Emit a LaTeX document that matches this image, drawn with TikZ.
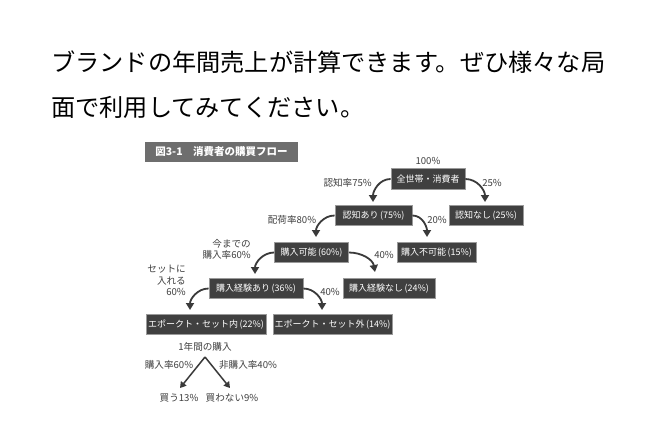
\documentclass[tikz,border=0pt]{standalone}
\usepackage{fontspec}
\setmainfont{Noto Sans CJK JP}
\usetikzlibrary{arrows.meta}
\definecolor{boxfill}{HTML}{404040}
\definecolor{boxline}{HTML}{9A9A9A}
\definecolor{ink}{HTML}{3A3A3A}
\definecolor{barfill}{HTML}{6E6E6E}
\definecolor{lbl}{HTML}{404040}
\newcommand{\pct}[1]{\,(#1\%)}
\begin{document}
\begin{tikzpicture}[x=1pt,y=-1pt,
  flowbox/.style={draw=boxline,line width=0.8pt,fill=boxfill,text=white,font=\fontsize{9}{10}\selectfont,inner sep=0pt,minimum height=20.5pt,anchor=center},
  lab/.style={text=lbl,font=\fontsize{9.6}{11.5}\selectfont,inner sep=0pt,align=center},
  arr/.style={draw=ink,line width=1.8pt,-{Triangle[length=7pt,width=8pt]}},
  thinarr/.style={draw=ink,line width=1.5pt,-{Triangle[length=6pt,width=7pt]}},
  headline/.style={font=\fontsize{24.2}{26}\selectfont,anchor=west,inner sep=0pt,text=black}]
\useasboundingbox[fill=white] (0,0) rectangle (656,436);
% heading text
\node[headline] (h1) at (51,62) {ブランドの年間売上が計算できます。ぜひ様々な局};
\node[headline] (h2) at (51,107) {面で利用してみてください。};
% title bar
\node[fill=barfill,text=white,font=\fontsize{10.5}{12}\selectfont\bfseries,minimum width=153pt,minimum height=20pt,inner sep=0pt] (bar) at (221.5,152) {図3-1\quad 消費者の購買フロー};
% boxes
\node[flowbox,minimum width=74pt] (b0) at (428,179) {全世帯・消費者};
\node[flowbox,minimum width=77pt] (b1) at (373.5,215.5) {認知あり\pct{75}};
\node[flowbox,minimum width=74pt] (b2) at (486,215.5) {認知なし\pct{25}};
\node[flowbox,minimum width=74pt] (b3) at (311.5,252.5) {購入可能\pct{60}};
\node[flowbox,minimum width=79pt] (b4) at (436.5,252.5) {購入不可能\pct{15}};
\node[flowbox,minimum width=94pt] (b5) at (256,288.5) {購入経験あり\pct{36}};
\node[flowbox,minimum width=92pt] (b6) at (389,288.5) {購入経験なし\pct{24}};
\node[flowbox,minimum width=120pt] (b7) at (206,324.5) {エポークト・セット内\pct{22}};
\node[flowbox,minimum width=119pt] (b8) at (332.5,324.5) {エポークト・セット外\pct{14}};
% labels
\node[lab] (p100) at (428,161) {100\%};
\node[lab,anchor=east] (l75) at (372,183) {認知率75\%};
\node[lab] (l25) at (492,183) {25\%};
\node[lab] (l80) at (292,220) {配荷率80\%};
\node[lab] (l20) at (437,220) {20\%};
\node[lab,align=right,anchor=east] (l60a) at (251,249.5) {今までの\\購入率60\%};
\node[lab] (l40a) at (384,255) {40\%};
\node[lab,align=right,anchor=east] (l60b) at (186,280.5) {セットに\\入れる\\60\%};
\node[lab] (l40b) at (330,292) {40\%};
\node[lab] (y1) at (205,347) {1年間の購入};
\node[lab] (y2) at (169,365) {購入率60\%};
\node[lab] (y3) at (248,365) {非購入率40\%};
\node[lab] (y4) at (179,398) {買う13\%};
\node[lab] (y5) at (232,398) {買わない9\%};
% arrow end points
\coordinate (e1) at (373,202);
\coordinate (e2) at (485,202);
\coordinate (e3) at (316,237);
\coordinate (e4) at (427,237);
\coordinate (e5) at (255,274);
\coordinate (e6) at (375,272);
\coordinate (e7) at (190,310);
\coordinate (e8) at (322,310);
\coordinate (apex) at (205,357);
\coordinate (e9) at (180,388);
\coordinate (e10) at (230,388);
% arrows
\draw[arr] (b0.west) to[out=180,in=90] (e1);
\draw[arr] (b0.east) to[out=0,in=90] (e2);
\draw[arr] (b1.west) to[out=180,in=90] (e3);
\draw[arr] (b1.east) to[out=0,in=90] (e4);
\draw[arr] (b3.west) to[out=180,in=90] (e5);
\draw[arr] (b3.east) to[out=0,in=100] (e6);
\draw[arr] (b5.west) to[out=180,in=90] (e7);
\draw[arr] (b5.east) to[out=0,in=90] (e8);
\draw[thinarr] (apex) -- (e9);
\draw[thinarr] (apex) -- (e10);
\end{tikzpicture}
\end{document}
